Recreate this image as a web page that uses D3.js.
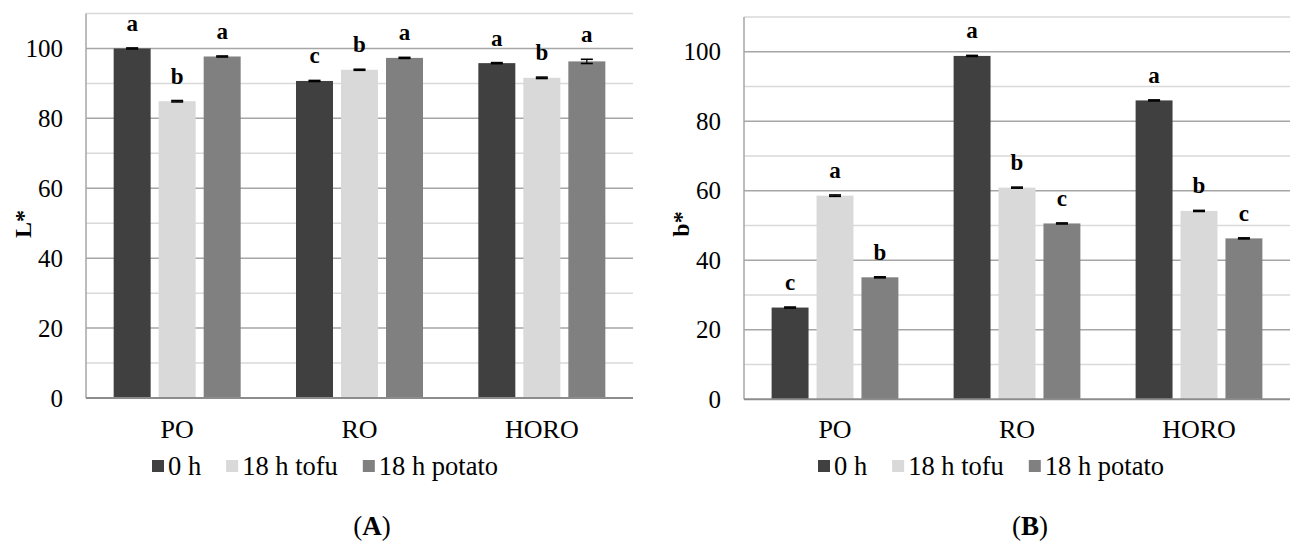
<!DOCTYPE html>
<html>
<head>
<meta charset="utf-8">
<script src="https://cdn.jsdelivr.net/npm/d3@7"></script>
<style>
  body { margin: 0; background: #fff; }
</style>
</head>
<body>
<script>
var categories = ["PO", "RO", "HORO"];
var series = ["0 h", "18 h tofu", "18 h potato"];
var colors = ["#404040", "#d9d9d9", "#808080"];

var majorTicks = [0, 20, 40, 60, 80, 100];
var minorTicks = [10, 30, 50, 70, 90, 110];

// L* (panel A), rows = categories, columns = series
var lValues = [[100.0, 84.9, 97.7], [90.7, 93.9, 97.3], [95.8, 91.6, 96.3]];
var lErrors = [[0.15, 0.2, 0.15], [0.15, 0.15, 0.15], [0.15, 0.2, 0.6]];
var lLetters = [["a", "b", "a"], ["c", "b", "a"], ["a", "b", "a"]];

// b* (panel B)
var bValues = [[26.4, 58.6, 35.1], [98.8, 60.9, 50.6], [86.0, 54.2, 46.3]];
var bErrors = [[0.15, 0.2, 0.15], [0.15, 0.15, 0.15], [0.15, 0.15, 0.15]];
var bLetters = [["c", "a", "b"], ["a", "b", "c"], ["a", "b", "c"]];

var svg = d3.select("body").append("svg")
    .attr("width", 1292)
    .attr("height", 543);

function serif(sel) {
  return sel.attr("font-family", "Liberation Serif").style("font-family", "'Liberation Serif'");
}

function panel(opt) {
  var g = svg.append("g");

  var x = d3.scaleBand().domain(categories)
      .range([opt.left, opt.right])
      .paddingInner(0.3034).paddingOuter(0.1517);
  var xs = d3.scaleBand().domain(series)
      .range([0, x.bandwidth()])
      .paddingInner(0.178);
  var y = d3.scaleLinear().domain([0, 110]).range([opt.bottom, opt.top]);

  // gridlines
  g.selectAll(".minor").data(minorTicks).enter().append("line")
      .attr("x1", opt.left).attr("x2", opt.right)
      .attr("y1", function(d) { return y(d); })
      .attr("y2", function(d) { return y(d); })
      .attr("stroke", "#d9d9d9").attr("stroke-width", 1.5);
  g.selectAll(".major").data(majorTicks.slice(1)).enter().append("line")
      .attr("x1", opt.left).attr("x2", opt.right)
      .attr("y1", function(d) { return y(d); })
      .attr("y2", function(d) { return y(d); })
      .attr("stroke", "#a6a6a6").attr("stroke-width", 1.5);

  // vertical axis line
  g.append("line")
      .attr("x1", opt.left).attr("x2", opt.left)
      .attr("y1", y(110)).attr("y2", y(0))
      .attr("stroke", "#a6a6a6").attr("stroke-width", 1.5);

  var rows = [];
  categories.forEach(function(c, i) {
    series.forEach(function(s, j) {
      rows.push({cat: c, ser: s, j: j, v: opt.values[i][j], e: opt.errors[i][j], l: opt.letters[i][j]});
    });
  });

  g.selectAll("rect.bar").data(rows).enter().append("rect")
      .attr("x", function(d) { return x(d.cat) + xs(d.ser); })
      .attr("y", function(d) { return y(d.v); })
      .attr("width", xs.bandwidth())
      .attr("height", function(d) { return y(0) - y(d.v); })
      .attr("fill", function(d) { return colors[d.j]; });

  // error bars
  var eb = g.selectAll("g.err").data(rows).enter().append("g")
      .attr("transform", function(d) { return "translate(" + (x(d.cat) + xs(d.ser) + xs.bandwidth() / 2) + ",0)"; });
  eb.append("line")
      .attr("y1", function(d) { return y(d.v - d.e); })
      .attr("y2", function(d) { return y(d.v + d.e); })
      .attr("stroke", "#000").attr("stroke-width", 1.2);
  eb.append("line")
      .attr("x1", -6).attr("x2", 6)
      .attr("y1", function(d) { return y(d.v + d.e); })
      .attr("y2", function(d) { return y(d.v + d.e); })
      .attr("stroke", "#000").attr("stroke-width", 1.6);
  eb.append("line")
      .attr("x1", -6).attr("x2", 6)
      .attr("y1", function(d) { return y(d.v - d.e); })
      .attr("y2", function(d) { return y(d.v - d.e); })
      .attr("stroke", "#000").attr("stroke-width", 1.6);

  // significance letters
  g.selectAll("text.letter").data(rows).enter().append("text")
      .attr("x", function(d) { return x(d.cat) + xs(d.ser) + xs.bandwidth() / 2; })
      .attr("y", function(d) { return y(d.v + d.e) - 17; })
      .attr("text-anchor", "middle")
      .attr("font-size", 23).attr("font-weight", "bold")
      .text(function(d) { return d.l; });

  // bottom axis line
  g.append("line")
      .attr("x1", opt.left).attr("x2", opt.right)
      .attr("y1", y(0)).attr("y2", y(0))
      .attr("stroke", "#8c8c8c").attr("stroke-width", 2);

  // y axis labels
  var yAxis = d3.axisLeft(y).tickValues(majorTicks).tickSize(0).tickPadding(23);
  g.append("g").attr("transform", "translate(" + opt.left + ",0)").call(yAxis)
    .call(function(a) {
      a.select(".domain").remove();
      a.attr("font-size", 25);
      a.selectAll("text").attr("fill", "#000");
    });

  // x axis labels
  var xAxis = d3.axisBottom(x).tickSize(0).tickPadding(0);
  g.append("g").attr("transform", "translate(0," + y(0) + ")").call(xAxis)
    .call(function(a) {
      a.select(".domain").remove();
      a.attr("font-size", 26);
      a.selectAll("text").attr("fill", "#000")
        .attr("dy", null).attr("y", 438 - y(0));
    });

  // y title
  g.append("text")
      .attr("transform", "translate(" + (opt.left - 55) + ",224) rotate(-90)")
      .attr("text-anchor", "middle")
      .attr("font-size", 24).attr("font-weight", "bold")
      .text(opt.title);

  // legend
  var lx = opt.legendX;
  series.forEach(function(s, j) {
    g.append("rect").attr("x", lx).attr("y", 460).attr("width", 12).attr("height", 12)
        .attr("fill", colors[j]);
    var t = g.append("text").attr("x", lx + 16).attr("y", 475)
        .attr("font-size", 26.5).text(s);
    serif(t);
    lx += 16 + t.node().getComputedTextLength() + 25;
  });

  // panel label
  var lab = g.append("text").attr("x", opt.labelX).attr("y", 535)
      .attr("text-anchor", "middle").attr("font-size", 27);
  lab.append("tspan").text("(");
  lab.append("tspan").attr("font-weight", "bold").text(opt.label);
  lab.append("tspan").text(")");
}

panel({left: 86, right: 633, top: 13.5, bottom: 398, values: lValues, errors: lErrors,
       letters: lLetters, title: "L*", legendX: 152, labelX: 372, label: "A"});
panel({left: 744, right: 1290, top: 17, bottom: 399.3, values: bValues, errors: bErrors,
       letters: bLetters, title: "b*", legendX: 818, labelX: 1030, label: "B"});

serif(svg.selectAll("text"));
serif(svg.selectAll("tspan"));
</script>
</body>
</html>
